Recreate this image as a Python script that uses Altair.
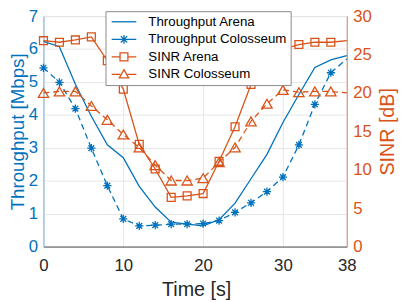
import altair as alt
import pandas as pd

# ---- data ----
t = [0, 2, 4, 6, 8, 10, 12, 14, 16, 18, 20, 22, 24, 26, 28, 30, 32, 34, 36, 38]
thr_arena = [6.23, 6.07, 4.93, 3.96, 3.09, 2.70, 1.83, 1.20, 0.74, 0.68,
             0.63, 0.82, 1.32, 2.06, 2.80, 3.77, 4.62, 5.44, 5.67, 5.80]
thr_colo = [5.43, 4.99, 4.19, 2.99, 1.85, 0.84, 0.63, 0.65, 0.68, 0.68,
            0.70, 0.79, 1.04, 1.33, 1.67, 2.11, 3.09, 4.32, 5.28, 5.70]
sinr_arena = [26.8, 26.6, 26.9, 27.3, 24.2, 20.5, 13.3, 10.1, 6.4, 6.6,
              6.9, 11.1, 15.6, 21.1, 24.4, 25.7, 26.3, 26.6, 26.6, 26.8]
sinr_colo = [20.0, 20.2, 20.2, 18.3, 16.5, 14.6, 12.9, 10.6, 8.6, 8.6,
             8.9, 11.0, 12.9, 16.3, 18.6, 20.4, 20.1, 20.2, 20.2, 20.0]
series_names = ["Throughput Arena", "Throughput Colosseum", "SINR Arena", "SINR Colosseum"]
x_ticks = [0, 10, 20, 30, 38]
left_ticks = [0, 1, 2, 3, 4, 5, 6, 7]
right_ticks = [0, 5, 10, 15, 20, 25, 30]

BLUE = "#0072BD"
ORANGE = "#D95319"
FONT = "Liberation Sans"
LW = 1.3
DASH = [6, 4]
ASTERISK = "M-1,0H1M0,-1V1M-0.7,-0.7L0.7,0.7M-0.7,0.7L0.7,-0.7"

legend_paths = [
    "M-2.5,0H2.5",
    "M-2.5,0H2.5M0,-0.9V0.9M-0.64,-0.64L0.64,0.64M-0.64,0.64L0.64,-0.64",
    "M-2.5,0H-0.8M0.8,0H2.5M-0.8,-0.8H0.8V0.8H-0.8Z",
    "M-2.5,0H-0.75M0.75,0H2.5M0,-0.95L0.95,0.7L-0.95,0.7Z",
]

def frame(vals):
    return pd.DataFrame({"t": t, "v": vals})

W, H = 308, 234

x_enc = alt.X("t:Q", scale=alt.Scale(domain=[0, 38], nice=False, zero=False),
              axis=alt.Axis(values=x_ticks, title="Time [s]", grid=True, gridColor="#e6e6e6",
                            ticks=False, tickSize=0, labelPadding=11, labelFontSize=17,
                            labelColor="#262626", labelFont=FONT, labelFlush=False,
                            domainColor="#555555", titleFont=FONT, titleFontSize=20,
                            titleFontWeight="normal", titleColor="#262626",
                            titleX=W / 2 + 1, titleY=44, titleBaseline="middle"))

yL = alt.Y("v:Q", scale=alt.Scale(domain=[0, 7], nice=False),
           axis=alt.Axis(values=left_ticks, title="Throughput [Mbps]", grid=True,
                         gridColor="#e6e6e6", ticks=False, tickSize=0, labelPadding=6,
                         labelFontSize=17, labelColor=BLUE, labelFont=FONT,
                         domainColor="#7fb4de", titleColor=BLUE, titleFont=FONT,
                         titleFontSize=19, titleFontWeight="normal", titleAngle=270,
                         titleX=-26, titleY=H / 2, titleBaseline="middle",
                         titleAlign="center"))

yR = alt.Y("v:Q", scale=alt.Scale(domain=[0, 30], nice=False),
           axis=alt.Axis(orient="right", values=right_ticks, title="SINR [dB]", grid=False,
                         ticks=False, tickSize=0, labelPadding=6, labelFontSize=17,
                         labelColor=ORANGE, labelFont=FONT, domainColor="#e58a60",
                         titleColor=ORANGE, titleFont=FONT, titleFontSize=20,
                         titleFontWeight="normal", titleAngle=270, titleX=41,
                         titleY=H / 2, titleBaseline="middle", titleAlign="center"))

def line(vals, color, y, dash=None):
    kw = dict(color=color, strokeWidth=LW)
    if dash:
        kw["strokeDash"] = dash
    return alt.Chart(frame(vals)).mark_line(**kw).encode(x=x_enc, y=y)

def pts(vals, color, y, shape, size):
    return (alt.Chart(frame(vals)).transform_filter("datum.t <= 36")
            .mark_point(shape=shape, size=size, filled=False, color=color,
                        strokeWidth=LW, opacity=1)
            .encode(x=x_enc, y=y))

left = alt.layer(
    line(thr_arena, BLUE, yL),
    line(thr_colo, BLUE, yL, DASH),
    pts(thr_colo, BLUE, yL, ASTERISK, 70),
)

right = alt.layer(
    line(sinr_arena, ORANGE, yR),
    pts(sinr_arena, ORANGE, yR, "square", 64),
    line(sinr_colo, ORANGE, yR, DASH),
    pts(sinr_colo, ORANGE, yR, "triangle-up", 110),
)

leg_kw = dict(orient="none", legendX=63, legendY=-5, title=None, direction="vertical",
              symbolSize=100, symbolStrokeWidth=LW, symbolOpacity=1,
              labelFontSize=13.5, labelFont=FONT, labelColor="#000000",
              padding=4, rowPadding=2.8, symbolOffset=8, labelOffset=18,
              fillColor="white", strokeColor="#8a8a8a")

legend_layer = alt.Chart(pd.DataFrame({"series": series_names})).mark_point(
    filled=False, opacity=0, strokeWidth=LW
).encode(
    shape=alt.Shape("series:N", sort=series_names,
                    scale=alt.Scale(domain=series_names, range=legend_paths),
                    legend=alt.Legend(**leg_kw)),
    color=alt.Color("series:N", sort=series_names,
                    scale=alt.Scale(domain=series_names, range=[BLUE, BLUE, ORANGE, ORANGE]),
                    legend=alt.Legend(**leg_kw)),
)

chart = alt.layer(left, right, legend_layer).resolve_scale(y="independent").properties(
    width=W, height=H,
    autosize=alt.AutoSizeParams(type="none"),
    padding={"left": 36, "top": 6, "right": 53, "bottom": 52},
).configure_view(stroke="#666666", strokeWidth=1).configure(background="white")

chart.save("out.html", embed_options={"renderer": "svg", "actions": False})
